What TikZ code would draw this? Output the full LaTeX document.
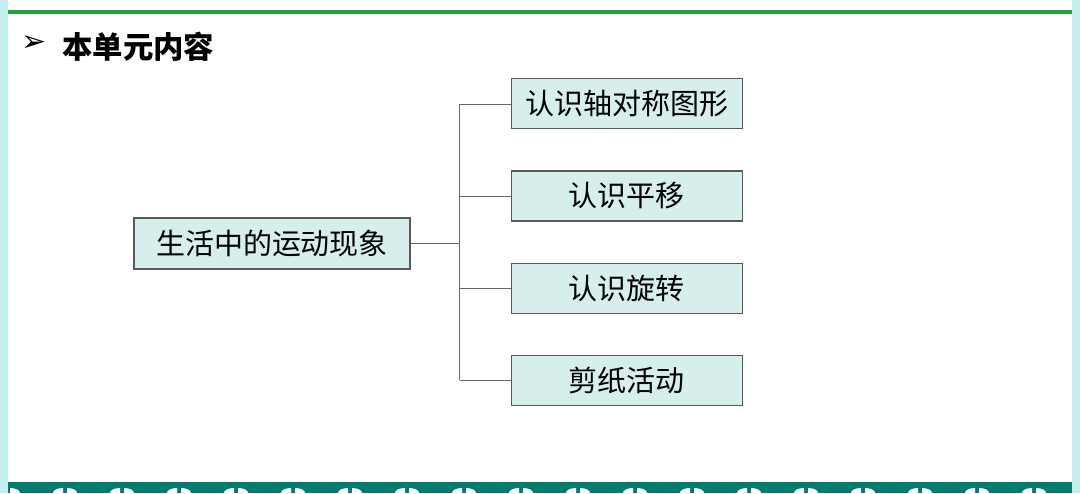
\documentclass[tikz,border=0pt]{standalone}
\usepackage{fontspec}
\usepackage{tikz}
\usetikzlibrary{positioning,calc}
\newfontfamily\cjk{Noto Sans CJK SC}
\newfontfamily\symfont{DejaVu Sans}
\definecolor{BoxCyan}{RGB}{214,239,236}
\definecolor{EdgeCyan}{RGB}{196,238,236}
\definecolor{BarGreen}{RGB}{42,160,58}
\definecolor{BandTeal}{RGB}{0,124,112}

\begin{document}
\begin{tikzpicture}[
    topic/.style={rectangle, draw=gray!70!black, line width=0.6pt, fill=BoxCyan, minimum width=5.52cm, minimum height=1.02cm, text centered, font=\cjk\fontsize{16.5}{18}\selectfont},
    leaf/.style={topic, minimum width=4.62cm, minimum height=1.0cm},
    link/.style={draw=gray!80!black, line width=0.5pt}
]
% Frame
\useasboundingbox (0,0) rectangle (21.6,9.86);
\fill[EdgeCyan] (0,0) rectangle (21.6,9.86);
\fill[white] (0.16,0.22) rectangle (21.44,9.86);
\fill[BarGreen] (0.16,9.58) rectangle (21.44,9.66);
\begin{scope}
\clip (0.16,0) rectangle (21.44,0.22);
\fill[BandTeal] (0.16,0) rectangle (21.44,0.22);
\foreach \i in {0,...,19} {
    \fill[white] ($(0.12+\i*1.14,0)$) -- ++(0,0.1) arc (90:180:0.2 and 0.1) -- cycle;
    \fill[white] ($(0.2+\i*1.14,0)$) -- ++(0,0.1) arc (90:0:0.2 and 0.1) -- cycle;
}
\end{scope}

% Title
\node (bullet) at (0.68,8.98) {\symfont\fontsize{17}{20}\selectfont ➢};
\node[anchor=west, inner sep=0pt] (title) at (1.24,8.92) {\cjk\bfseries\fontsize{17.3}{20}\selectfont 本单元内容};

% Place nodes
\node [topic] (main) at (5.44,4.99) {生活中的运动现象};
\node [leaf, right=2cm of main, yshift=0.95cm] (move) {认识平移};
\node [leaf, above=0.82cm of move] (axis) {认识轴对称图形};
\node [leaf, below=0.82cm of move] (turn) {认识旋转};
\node [leaf, below=0.82cm of turn] (paper) {剪纸活动};
\coordinate (fork) at ($(main.east)+(0.98,0)$);

% Draw edges
\draw [link] (main.east) -- (fork);
\draw [link] (fork |- axis.west) -- (fork |- paper.west);
\foreach \b in {axis,move,turn,paper}
    \draw [link] (fork |- \b.west) -- (\b.west);
\end{tikzpicture}
\end{document}
